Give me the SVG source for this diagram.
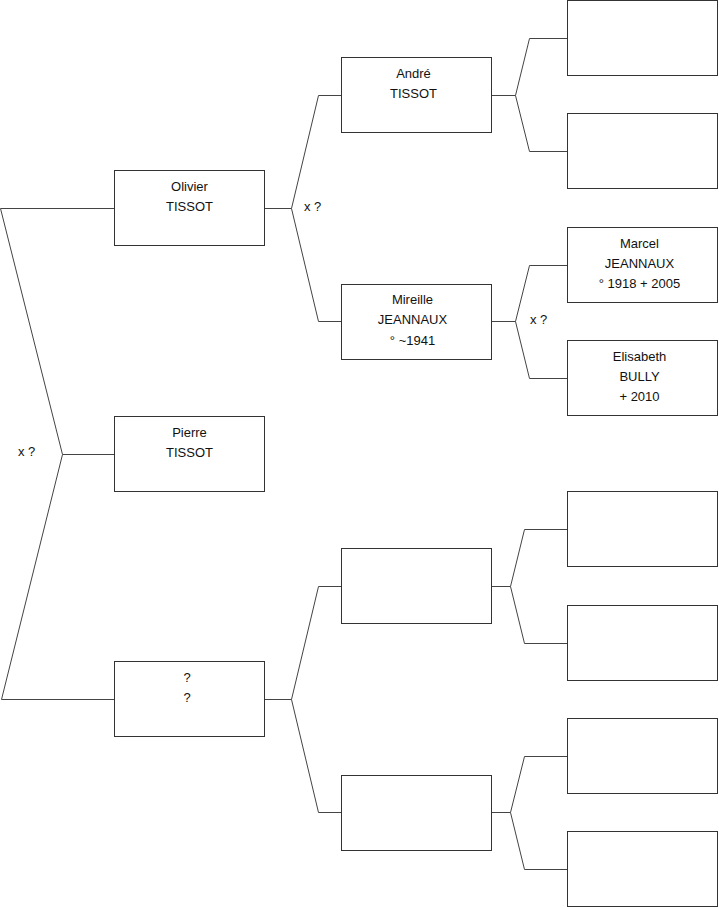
<svg xmlns="http://www.w3.org/2000/svg" width="719" height="908" viewBox="0 0 719 908">
<style>
.box{fill:#fff;stroke:#333;stroke-width:1}
.ln{fill:none;stroke:#444;stroke-width:1}
text{font-family:"Liberation Sans",Arial,sans-serif;font-size:13px;fill:#111;text-anchor:middle}
.l{text-anchor:start}
</style>
<rect width="719" height="908" fill="#fff"/>
<g id="connectors">
<polyline class="ln" points="114,208.5 0.5,208.5 62.5,454.5 1.5,699.5 114,699.5"/>
<line class="ln" x1="62.5" y1="454.5" x2="114" y2="454.5"/>
<polyline class="ln" points="341,95.5 318.5,95.5 291.5,208.5 318.5,321.5 341,321.5"/>
<line class="ln" x1="265" y1="208.5" x2="291.5" y2="208.5"/>
<polyline class="ln" points="341,586.5 318.5,586.5 291.5,699.5 318.5,812.5 341,812.5"/>
<line class="ln" x1="265" y1="699.5" x2="291.5" y2="699.5"/>
<polyline class="ln" points="567,38.5 529.5,38.5 515.5,95.5 529.5,151.5 567,151.5"/>
<line class="ln" x1="492" y1="95.5" x2="515.5" y2="95.5"/>
<polyline class="ln" points="567,265.5 529.5,265.5 515.5,321.5 529.5,378.5 567,378.5"/>
<line class="ln" x1="492" y1="321.5" x2="515.5" y2="321.5"/>
<polyline class="ln" points="567,529.5 524.5,529.5 510.5,586.5 524.5,643.5 567,643.5"/>
<line class="ln" x1="492" y1="586.5" x2="510.5" y2="586.5"/>
<polyline class="ln" points="567,756.5 524.5,756.5 510.5,812.5 524.5,869.5 567,869.5"/>
<line class="ln" x1="492" y1="812.5" x2="510.5" y2="812.5"/>
<text class="l" x="18" y="456">x ?</text>
<text class="l" x="304" y="211">x ?</text>
<text class="l" x="530" y="324">x ?</text>
</g>
<g id="olivier"><rect class="box" x="114.5" y="170.5" width="150" height="75"/><text x="189.5" y="191">Olivier</text><text x="189.5" y="211">TISSOT</text></g>
<g id="pierre"><rect class="box" x="114.5" y="416.5" width="150" height="75"/><text x="189.5" y="437">Pierre</text><text x="189.5" y="457">TISSOT</text></g>
<g id="unknown"><rect class="box" x="114.5" y="661.5" width="150" height="75"/><text x="187" y="682">?</text><text x="187" y="702">?</text></g>
<g id="andre"><rect class="box" x="341.5" y="57.5" width="150" height="75"/><text x="413.5" y="78">André</text><text x="413.5" y="98">TISSOT</text></g>
<g id="mireille"><rect class="box" x="341.5" y="284.5" width="150" height="75"/><text x="412.5" y="304">Mireille</text><text x="412.5" y="324">JEANNAUX</text><text x="412.5" y="345">° ~1941</text></g>
<g id="p3"><rect class="box" x="341.5" y="548.5" width="150" height="75"/></g>
<g id="p4"><rect class="box" x="341.5" y="775.5" width="150" height="75"/></g>
<g id="g1"><rect class="box" x="567.5" y="0.5" width="150" height="75"/></g>
<g id="g2"><rect class="box" x="567.5" y="113.5" width="150" height="75"/></g>
<g id="marcel"><rect class="box" x="567.5" y="227.5" width="150" height="75"/><text x="639.5" y="248">Marcel</text><text x="639.5" y="268">JEANNAUX</text><text x="639.5" y="288">° 1918 + 2005</text></g>
<g id="elisabeth"><rect class="box" x="567.5" y="340.5" width="150" height="75"/><text x="639.5" y="361">Elisabeth</text><text x="639.5" y="381">BULLY</text><text x="639.5" y="401"> + 2010</text></g>
<g id="g5"><rect class="box" x="567.5" y="491.5" width="150" height="75"/></g>
<g id="g6"><rect class="box" x="567.5" y="605.5" width="150" height="75"/></g>
<g id="g7"><rect class="box" x="567.5" y="718.5" width="150" height="75"/></g>
<g id="g8"><rect class="box" x="567.5" y="831.5" width="150" height="75"/></g>
</svg>
